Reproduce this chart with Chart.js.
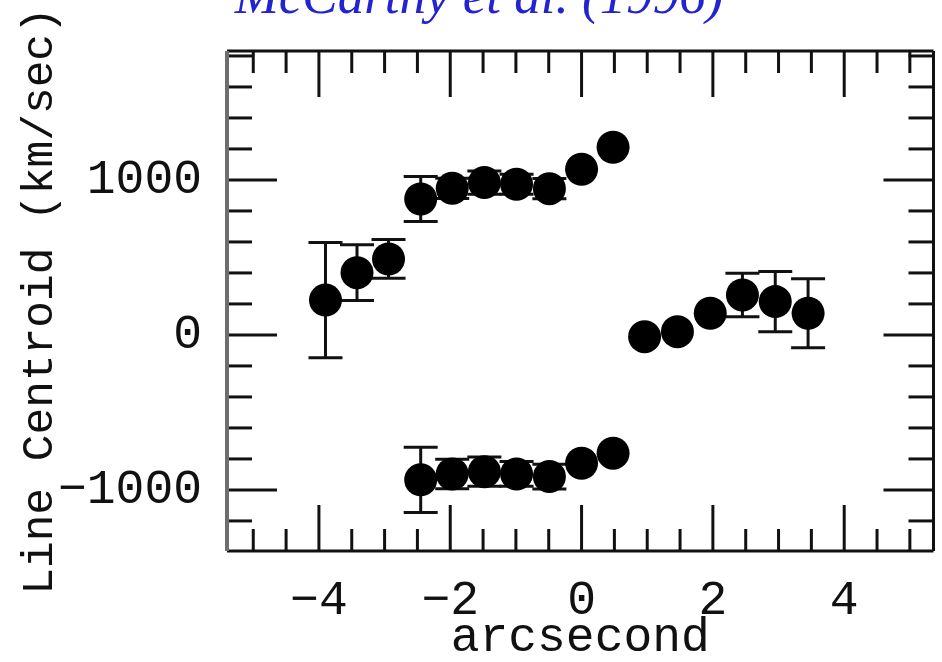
<!DOCTYPE html>
<html>
<head>
<meta charset="utf-8">
<title>Line centroid vs offset</title>
<script src="https://cdn.jsdelivr.net/npm/chart.js@4.4.0/dist/chart.umd.min.js"></script>
<style>
  html, body { margin: 0; padding: 0; background: #fff; overflow: hidden; }
  canvas { display: block; }
</style>
</head>
<body>
<canvas id="myChart" width="950" height="662"></canvas>
<script>
// Offsets along the slit (arcsec) and line centroids (km/sec) with errors
const upperX   = [-3.9, -3.42, -2.94, -2.45, -1.97, -1.48, -0.99, -0.49, 0.0, 0.48];
const upperY   = [225, 402, 490, 877, 946, 983, 972, 944, 1069, 1211];
const upperErr = [372, 180, 125, 145, 65, 75, 65, 65, 0, 0];

const lowerX   = [-2.45, -1.97, -1.48, -0.99, -0.49, 0.0, 0.48];
const lowerY   = [-935, -897, -882, -897, -914, -828, -763];
const lowerErr = [210, 95, 95, 80, 80, 0, 0];

const rightX   = [0.96, 1.46, 1.96, 2.45, 2.95, 3.45];
const rightY   = [-11, 21, 140, 258, 215, 140];
const rightErr = [0, 0, 0, 140, 195, 222];

// labelled ticks
const xTickValues = [-4, -2, 0, 2, 4];
const yTickValues = [-1000, 0, 1000];

const monoFont = 'Liberation Mono, Courier New, monospace';
const ink = '#111';

function toPoints(xs, ys, errs) {
    return xs.map(function (x, i) {
        return { x: x, y: ys[i], err: errs[i] };
    });
}

function minusSign(v) {
    return v < 0 ? '\u2212' + Math.abs(v) : String(v);
}

// vertical error bars with caps, drawn under the markers
const errorBars = {
    id: 'errorBars',
    beforeDatasetsDraw(chart) {
        const { ctx, scales: { x, y } } = chart;
        const cap = 17;
        ctx.save();
        ctx.strokeStyle = ink;
        ctx.lineWidth = 3;
        chart.data.datasets.forEach(function (ds) {
            ds.data.forEach(function (p) {
                if (!p.err) return;
                const px = x.getPixelForValue(p.x);
                const top = y.getPixelForValue(p.y + p.err);
                const bot = y.getPixelForValue(p.y - p.err);
                ctx.beginPath();
                ctx.moveTo(px, top); ctx.lineTo(px, bot);
                ctx.moveTo(px - cap, top); ctx.lineTo(px + cap, top);
                ctx.moveTo(px - cap, bot); ctx.lineTo(px + cap, bot);
                ctx.stroke();
            });
        });
        ctx.restore();
    }
};

// box around the plot with inward tick marks on all four sides
const frame = {
    id: 'frame',
    afterDatasetsDraw(chart) {
        const { ctx, chartArea: a, scales: { x, y } } = chart;
        ctx.save();
        ctx.strokeStyle = ink;
        ctx.lineWidth = 3;

        function seg(x1, y1, x2, y2) {
            ctx.beginPath();
            ctx.moveTo(x1, y1);
            ctx.lineTo(x2, y2);
            ctx.stroke();
        }

        for (let v = -5; v <= 5.001; v += 0.5) {
            const px = x.getPixelForValue(v);
            const len = (Math.abs(v) % 2 === 0) ? 46 : 22;
            seg(px, a.top, px, a.top + len);
            seg(px, a.bottom, px, a.bottom - len);
        }
        for (let v = -1200; v <= 1800; v += 200) {
            const py = y.getPixelForValue(v);
            const len = (v % 1000 === 0) ? 50 : 25;
            seg(a.left, py, a.left + len, py);
            seg(a.right, py, a.right - len, py);
        }

        seg(a.left, a.top, a.right, a.top);
        seg(a.left, a.bottom, a.right, a.bottom);
        seg(a.right, a.top, a.right, a.bottom);
        ctx.strokeStyle = '#6e6e6e';
        ctx.lineWidth = 4;
        seg(a.left, a.top, a.left, a.bottom);
        ctx.restore();
    }
};

const markerStyle = {
    backgroundColor: '#000',
    borderColor: '#000',
    borderWidth: 0,
    pointRadius: 16.5,
    pointHoverRadius: 16.5
};

const ctx = document.getElementById('myChart').getContext('2d');
const chart = new Chart(ctx, {
    type: 'scatter',
    data: {
        datasets: [
            Object.assign({ label: 'upper', data: toPoints(upperX, upperY, upperErr) }, markerStyle),
            Object.assign({ label: 'lower', data: toPoints(lowerX, lowerY, lowerErr) }, markerStyle),
            Object.assign({ label: 'right', data: toPoints(rightX, rightY, rightErr) }, markerStyle)
        ]
    },
    options: {
        responsive: false,
        animation: false,
        devicePixelRatio: 1,
        layout: { padding: { left: 10, right: 2, top: 0, bottom: 0 } },
        plugins: {
            legend: { display: false },
            tooltip: { enabled: false },
            title: {
                display: true,
                text: 'McCarthy et al. (1996)',
                color: '#2323cf',
                font: { family: 'Liberation Serif, Times New Roman, serif', style: 'italic', weight: 'normal', size: 53, lineHeight: 1 },
                padding: { top: -27, bottom: 25 }
            }
        },
        scales: {
            x: {
                type: 'linear',
                min: -5.4,
                max: 5.36,
                afterBuildTicks: function (scale) {
                    scale.ticks = xTickValues.map(function (v) { return { value: v }; });
                },
                afterFit: function (scale) { scale.height = 111; },
                grid: { display: false, drawTicks: false },
                border: { display: false },
                ticks: {
                    color: ink,
                    padding: 26,
                    maxRotation: 0,
                    font: { family: monoFont, size: 48, lineHeight: 1 },
                    callback: function (v) { return minusSign(v); }
                },
                title: {
                    display: true,
                    text: 'arcsecond',
                    color: ink,
                    font: { family: monoFont, size: 48, lineHeight: 1 },
                    padding: { top: 0, bottom: 0 }
                }
            },
            y: {
                type: 'linear',
                min: -1394,
                max: 1832,
                afterBuildTicks: function (scale) {
                    scale.ticks = yTickValues.map(function (v) { return { value: v }; });
                },
                afterFit: function (scale) { scale.width = 217; },
                grid: { display: false, drawTicks: false },
                border: { display: false },
                ticks: {
                    color: ink,
                    padding: 25,
                    font: { family: monoFont, size: 48, lineHeight: 1 },
                    callback: function (v) { return minusSign(v); }
                },
                title: {
                    display: true,
                    text: 'Line Centroid (km/sec)',
                    color: ink,
                    font: { family: monoFont, size: 44.5, lineHeight: 1 },
                    padding: { top: 8, bottom: 0 }
                }
            }
        }
    },
    plugins: [errorBars, frame]
});
</script>
</body>
</html>
